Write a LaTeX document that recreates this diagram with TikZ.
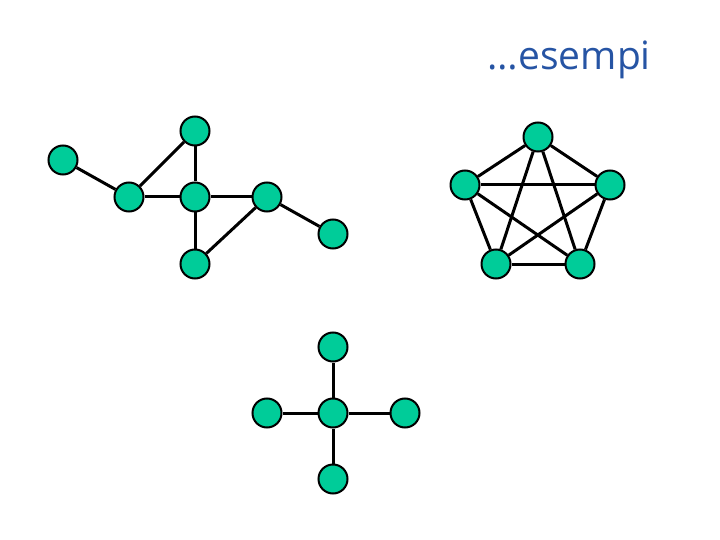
\documentclass[tikz,border=0pt]{standalone}
\usepackage{fontspec}
\setmainfont{Open Sans}
\definecolor{nodefill}{RGB}{0,204,153}
\definecolor{titleblue}{RGB}{38,84,164}
\begin{document}
\begin{tikzpicture}[x=1pt,y=-1pt,
  vtx/.style={circle,draw=black,fill=nodefill,line width=2pt,minimum size=29pt,inner sep=0pt},
  edge/.style={line width=3pt,black}]
\useasboundingbox (0,0) rectangle (720,540);
\node[anchor=base east,text=titleblue,font=\fontsize{39}{44}\selectfont,inner sep=0pt] (title) at (651,70) {…esempi};
% graph 1
\node[vtx] (a) at (63,160) {};
\node[vtx] (b) at (129,197) {};
\node[vtx] (c) at (195,131) {};
\node[vtx] (d) at (195,197) {};
\node[vtx] (e) at (267,197) {};
\node[vtx] (f) at (333,234) {};
\node[vtx] (g) at (195,264) {};
\draw[edge] (a) -- (b);
\draw[edge] (b) -- (c);
\draw[edge] (c) -- (d);
\draw[edge] (b) -- (d);
\draw[edge] (d) -- (e);
\draw[edge] (e) -- (f);
\draw[edge] (d) -- (g);
\draw[edge] (g) -- (e);
% pentagon K5
\node[vtx] (p1) at (538,137) {};
\node[vtx] (p2) at (465,185) {};
\node[vtx] (p3) at (610,185) {};
\node[vtx] (p4) at (496,264) {};
\node[vtx] (p5) at (580,264) {};
\foreach \u/\v in {p1/p2,p1/p3,p1/p4,p1/p5,p2/p3,p2/p4,p2/p5,p3/p4,p3/p5,p4/p5}
  \draw[edge] (\u) -- (\v);
% star
\node[vtx] (s1) at (333,347) {};
\node[vtx] (s2) at (267,413) {};
\node[vtx] (s0) at (333,413) {};
\node[vtx] (s3) at (405,413) {};
\node[vtx] (s4) at (333,479) {};
\draw[edge] (s0) -- (s1);
\draw[edge] (s0) -- (s2);
\draw[edge] (s0) -- (s3);
\draw[edge] (s0) -- (s4);
\end{tikzpicture}
\end{document}
